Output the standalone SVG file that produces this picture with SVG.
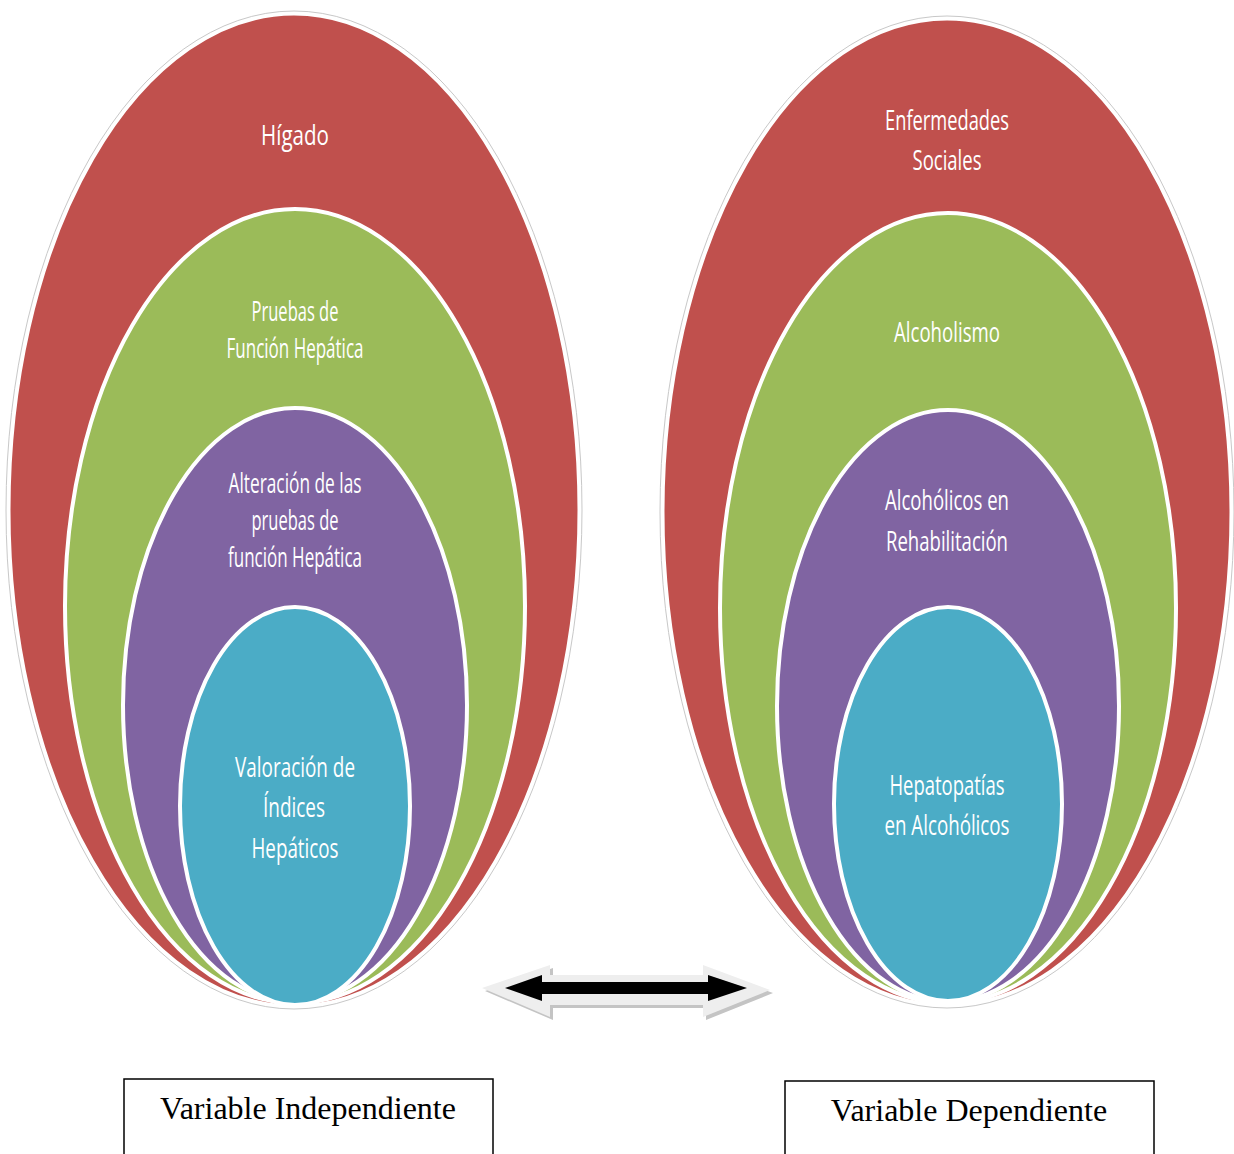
<svg xmlns="http://www.w3.org/2000/svg" width="1234" height="1154" viewBox="0 0 1234 1154">
<style>
.halo{fill:#fff;stroke:#c8c8c8;stroke-width:1}
.red{fill:#C0504D;stroke:#fff;stroke-width:3}
.green{fill:#9BBB59;stroke:#fff;stroke-width:4}
.purple{fill:#8064A2;stroke:#fff;stroke-width:4}
.blue{fill:#4BACC6;stroke:#fff;stroke-width:4}
.lbl{font-family:"Open Sans","Noto Sans",sans-serif;font-size:28px;fill:#fff;text-anchor:middle}
.box{fill:#fff;stroke:#000;stroke-width:1.5}
.cap{font-family:"Liberation Serif","Times New Roman",serif;font-size:32px;fill:#000}
</style>
<rect width="1234" height="1154" fill="#fff"/>
<g id="left">
<g id="l-higado">
<ellipse class="halo" cx="294" cy="510" rx="288" ry="499"/>
<ellipse class="red" cx="294" cy="510" rx="285" ry="496"/>
<text class="lbl" x="295" y="145" textLength="68" lengthAdjust="spacingAndGlyphs">Hígado</text>
</g>
<g id="l-pruebas">
<ellipse class="green" cx="295" cy="606" rx="230" ry="397"/>
<text class="lbl" x="295" y="321" textLength="87" lengthAdjust="spacingAndGlyphs">Pruebas de</text>
<text class="lbl" x="295" y="358" textLength="137" lengthAdjust="spacingAndGlyphs">Función Hepática</text>
</g>
<g id="l-alteracion">
<ellipse class="purple" cx="295" cy="705" rx="172" ry="297"/>
<text class="lbl" x="295" y="493" textLength="133" lengthAdjust="spacingAndGlyphs">Alteración de las</text>
<text class="lbl" x="295" y="530" textLength="87" lengthAdjust="spacingAndGlyphs">pruebas de</text>
<text class="lbl" x="295" y="567" textLength="134" lengthAdjust="spacingAndGlyphs">función Hepática</text>
</g>
<g id="l-valoracion">
<ellipse class="blue" cx="295" cy="806" rx="115" ry="199"/>
<text class="lbl" x="295" y="777" textLength="120" lengthAdjust="spacingAndGlyphs">Valoración de</text>
<text class="lbl" x="294" y="817" textLength="62" lengthAdjust="spacingAndGlyphs">Índices</text>
<text class="lbl" x="295" y="858" textLength="87" lengthAdjust="spacingAndGlyphs">Hepáticos</text>
</g>
</g>
<g id="right">
<g id="r-enfermedades">
<ellipse class="halo" cx="947" cy="512" rx="287" ry="496"/>
<ellipse class="red" cx="947" cy="512" rx="284" ry="493"/>
<text class="lbl" x="947" y="130" textLength="124" lengthAdjust="spacingAndGlyphs">Enfermedades</text>
<text class="lbl" x="947" y="170" textLength="69" lengthAdjust="spacingAndGlyphs">Sociales</text>
</g>
<g id="r-alcoholismo">
<ellipse class="green" cx="948" cy="608" rx="228" ry="395"/>
<text class="lbl" x="947" y="342" textLength="106" lengthAdjust="spacingAndGlyphs">Alcoholismo</text>
</g>
<g id="r-rehab">
<ellipse class="purple" cx="948" cy="706" rx="171" ry="296"/>
<text class="lbl" x="947" y="510" textLength="124" lengthAdjust="spacingAndGlyphs">Alcohólicos en</text>
<text class="lbl" x="947" y="551" textLength="122" lengthAdjust="spacingAndGlyphs">Rehabilitación</text>
</g>
<g id="r-hepatopatias">
<ellipse class="blue" cx="948" cy="804" rx="114" ry="197"/>
<text class="lbl" x="947" y="795" textLength="115" lengthAdjust="spacingAndGlyphs">Hepatopatías</text>
<text class="lbl" x="947" y="835" textLength="125" lengthAdjust="spacingAndGlyphs">en Alcohólicos</text>
</g>
</g>
<g id="connectors">
<polygon points="485,991 553,968 553,978 706,978 706,968 773,993 706,1020 706,1008 553,1008 553,1020" fill="#c4c4c4"/>
<polygon points="482,988 550,965 550,975 703,975 703,965 770,990 703,1017 703,1005 550,1005 550,1017" fill="#eeeeee"/>
<polygon points="505,988 542,975 542,982 708,982 708,975 747,988 708,1001 708,994 542,994 542,1001" fill="#000"/>
</g>
<g id="box-independiente">
<rect class="box" x="124" y="1079" width="369" height="90"/>
<text class="cap" x="308" y="1119" text-anchor="middle">Variable Independiente</text>
</g>
<g id="box-dependiente">
<rect class="box" x="785" y="1081" width="369" height="90"/>
<text class="cap" x="969" y="1121" text-anchor="middle">Variable Dependiente</text>
</g>
</svg>
